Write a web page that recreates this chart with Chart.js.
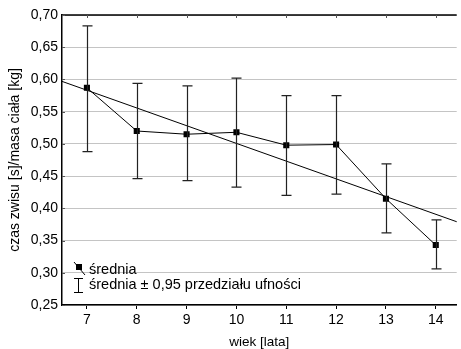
<!DOCTYPE html>
<html>
<head>
<meta charset="utf-8">
<script src="https://cdn.jsdelivr.net/npm/chart.js@4/dist/chart.umd.min.js"></script>
<style>
  html, body { margin: 0; padding: 0; background: #fff; }
  #wrap { width: 461px; height: 349px; }
</style>
</head>
<body>
<div id="wrap"><canvas id="c" width="461" height="349"></canvas></div>
<script>
// Age groups (years)
const ages = [7, 8, 9, 10, 11, 12, 13, 14];
// Mean hang time / body mass per age group
const means = [0.587, 0.520, 0.515, 0.518, 0.498, 0.499, 0.415, 0.343];
// 95% confidence interval bounds
const ciLower = [0.488, 0.446, 0.443, 0.433, 0.420, 0.422, 0.362, 0.306];
const ciUpper = [0.683, 0.594, 0.590, 0.602, 0.575, 0.575, 0.469, 0.382];
// Linear trend line end points (age, value)
const trendX = [6.5, 14.5];
const trendY = [0.597, 0.377];
// Axis ticks
const yTicks = [0.25, 0.30, 0.35, 0.40, 0.45, 0.50, 0.55, 0.60, 0.65, 0.70];

const FONT = '"Liberation Sans", Arial, Helvetica, sans-serif';

const errorBars = {
  id: 'errorBars',
  afterDatasetsDraw(chart) {
    const { ctx, scales: { x, y } } = chart;
    ctx.save();
    ctx.strokeStyle = '#222';
    ctx.lineWidth = 1.2;
    const cap = 5;
    ages.forEach((a, i) => {
      const px = Math.round(x.getPixelForValue(a)) + 0.5;
      const yl = y.getPixelForValue(ciLower[i]);
      const yu = y.getPixelForValue(ciUpper[i]);
      ctx.beginPath();
      ctx.moveTo(px, yu); ctx.lineTo(px, yl);
      ctx.moveTo(px - cap, yu); ctx.lineTo(px + cap, yu);
      ctx.moveTo(px - cap, yl); ctx.lineTo(px + cap, yl);
      ctx.stroke();
    });
    ctx.restore();
  }
};

const frame = {
  id: 'frame',
  afterDraw(chart) {
    const { ctx, chartArea: a, scales: { x, y } } = chart;
    ctx.save();
    ctx.strokeStyle = '#000';
    ctx.lineWidth = 1.5;
    // top border
    ctx.beginPath();
    ctx.moveTo(a.left, a.top); ctx.lineTo(a.right, a.top);
    ctx.stroke();
    ctx.lineWidth = 1;
    ctx.strokeStyle = '#555';
    ctx.beginPath();
    ages.forEach(v => {
      const px = Math.round(x.getPixelForValue(v)) + 0.5;
      ctx.moveTo(px, a.top); ctx.lineTo(px, a.top + 3);
    });
    yTicks.forEach(v => {
      const py = Math.round(y.getPixelForValue(v)) + 0.5;
      ctx.moveTo(a.left, py); ctx.lineTo(a.left + 3, py);
    });
    ctx.stroke();

    // legend
    ctx.strokeStyle = '#000';
    ctx.fillStyle = '#000';
    ctx.lineWidth = 1;
    ctx.beginPath();
    ctx.moveTo(74, 262); ctx.lineTo(85, 275);
    ctx.stroke();
    ctx.fillRect(76, 264, 6, 6);
    ctx.beginPath();
    ctx.moveTo(78.5, 278); ctx.lineTo(78.5, 292);
    ctx.moveTo(74, 278.5); ctx.lineTo(83, 278.5);
    ctx.moveTo(74, 292.5); ctx.lineTo(83, 292.5);
    ctx.stroke();
    ctx.font = '14.5px ' + FONT;
    ctx.textBaseline = 'middle';
    ctx.textAlign = 'left';
    ctx.fillText('średnia', 89, 270);
    ctx.fillText('średnia ± 0,95 przedziału ufności', 89, 285);
    ctx.restore();
  }
};

new Chart(document.getElementById('c'), {
  type: 'scatter',
  data: {
    datasets: [
      {
        label: 'średnia',
        data: ages.map((a, i) => ({ x: a, y: means[i] })),
        showLine: true,
        borderColor: '#000',
        borderWidth: 1,
        pointStyle: 'rect',
        pointRadius: 4.3,
        pointBackgroundColor: '#000',
        pointBorderColor: '#000',
        pointBorderWidth: 0
      },
      {
        label: 'trend',
        data: trendX.map((a, i) => ({ x: a, y: trendY[i] })),
        showLine: true,
        borderColor: '#000',
        borderWidth: 1,
        pointRadius: 0
      }
    ]
  },
  options: {
    responsive: false,
    animation: false,
    devicePixelRatio: 1,
    layout: { padding: { top: 15, right: 0, left: 0, bottom: 0 } },
    plugins: { legend: { display: false }, tooltip: { enabled: false } },
    scales: {
      x: {
        type: 'linear',
        min: 6.5,
        max: 14.42,
        afterBuildTicks(axis) { axis.ticks = ages.map(v => ({ value: v })); },
        afterFit(axis) { axis.height = 44; },
        border: { color: '#000', width: 1.5 },
        grid: { drawOnChartArea: false, drawTicks: true, tickLength: 4, color: '#000' },
        ticks: { color: '#000', font: { family: FONT, size: 14 }, padding: 3, callback: v => String(v) },
        title: { display: true, text: 'wiek [lata]', color: '#000', font: { family: FONT, size: 13.5 }, padding: { top: 0, bottom: -1 } }
      },
      y: {
        min: 0.25,
        max: 0.70,
        afterBuildTicks(axis) { axis.ticks = yTicks.map(v => ({ value: v })); },
        afterFit(axis) { axis.width = 62; },
        border: { color: '#000', width: 1.5 },
        grid: { color: '#c4c4c4', drawTicks: false, lineWidth: 1 },
        ticks: { color: '#000', font: { family: FONT, size: 14 }, padding: 4,
          callback: v => v.toFixed(2).replace('.', ',') },
        title: { display: true, text: 'czas zwisu [s]/masa ciała [kg]', color: '#000', font: { family: FONT, size: 14 }, padding: { top: 7, bottom: 0 } }
      }
    }
  },
  plugins: [errorBars, frame]
});
</script>
</body>
</html>
